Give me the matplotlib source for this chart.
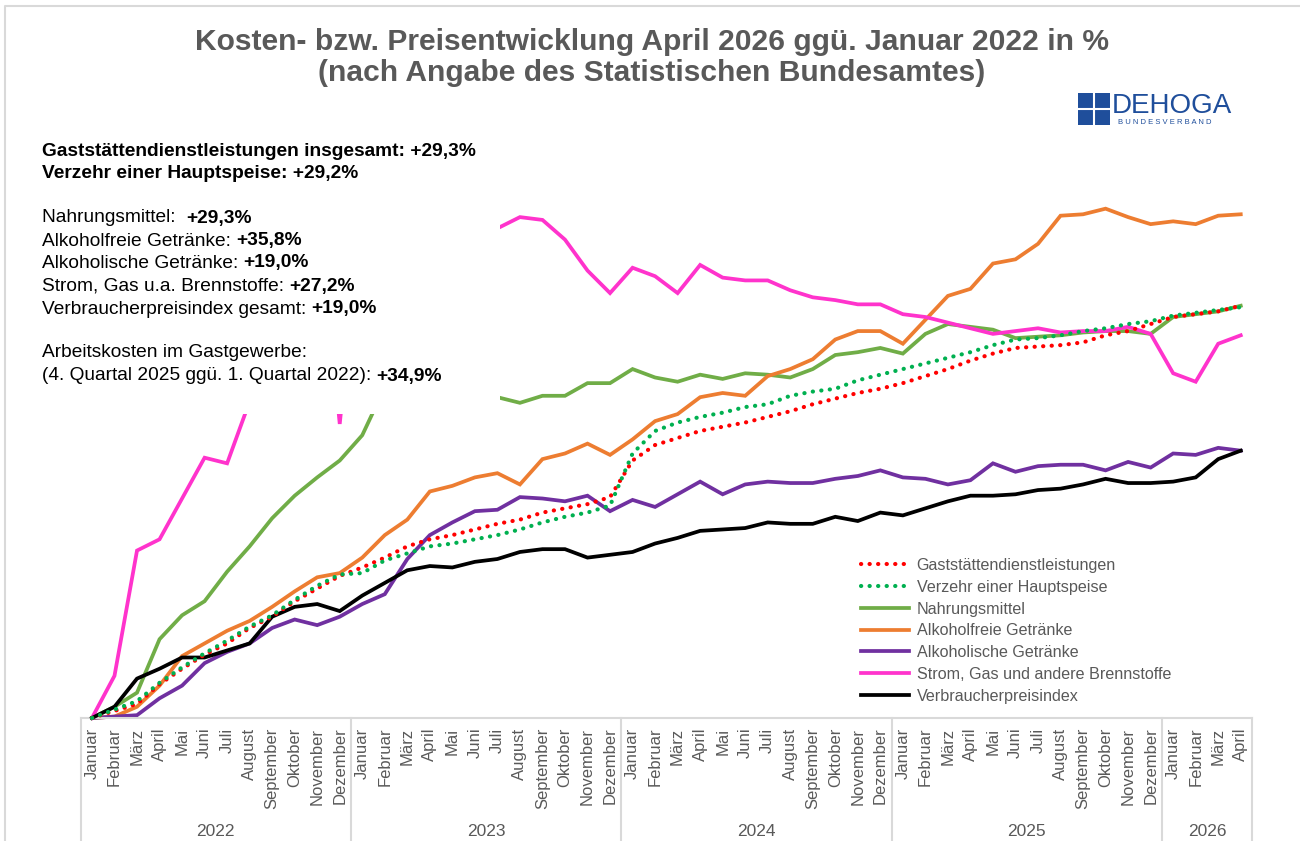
import matplotlib
matplotlib.use("Agg")
import matplotlib.pyplot as plt
from matplotlib.patches import Rectangle
from matplotlib.lines import Line2D
import matplotlib.transforms as mtransforms

plt.rcParams["font.family"] = ["Liberation Sans", "DejaVu Sans"]

W, H = 1300, 841
GREY = "#595959"
AXIS_GREY = "#D9D9D9"

# ── Daten (Veränderung ggü. Januar 2022 in %) ───────────────────

months = ["Januar", "Februar", "März", "April", "Mai", "Juni", "Juli",
          "August", "September", "Oktober", "November", "Dezember"]
years = ["2022", "2023", "2024", "2025", "2026"]
month_labels = months * 4 + months[:4]

gaststaetten = [0, 0.5, 1.0, 2.4, 3.5, 4.5, 5.3, 6.4, 7.2, 8.3, 9.2, 10.1,
                10.7, 11.4, 12.2, 12.7, 13.0, 13.4, 13.8, 14.1, 14.6, 14.9, 15.2, 15.7,
                18.3, 19.4, 19.9, 20.4, 20.7, 21.0, 21.4, 21.8, 22.3, 22.7, 23.1, 23.4,
                23.8, 24.3, 24.8, 25.4, 25.9, 26.3, 26.4, 26.5, 26.7, 27.2, 27.5, 28.0,
                28.5, 28.7, 28.9, 29.3]
hauptspeise = [0, 0.6, 1.2, 2.5, 3.6, 4.6, 5.5, 6.5, 7.3, 8.4, 9.4, 10.2,
               10.3, 11.2, 11.7, 12.2, 12.4, 12.7, 13.0, 13.4, 13.9, 14.3, 14.6, 15.1,
               18.8, 20.4, 21.0, 21.4, 21.7, 22.1, 22.3, 22.9, 23.2, 23.4, 24.0, 24.4,
               24.8, 25.2, 25.6, 26.0, 26.5, 26.9, 27.0, 27.2, 27.5, 27.7, 28.0, 28.2,
               28.6, 28.8, 29.0, 29.2]
nahrungsmittel = [0, 0.8, 1.8, 5.6, 7.3, 8.3, 10.4, 12.2, 14.2, 15.8, 17.1, 18.3,
                  20.1, 23.5, 24.5, 24.3, 24.0, 23.5, 22.8, 22.4, 22.9, 22.9, 23.8, 23.8,
                  24.8, 24.2, 23.9, 24.4, 24.1, 24.5, 24.4, 24.2, 24.8, 25.8, 26.0, 26.3,
                  25.9, 27.3, 28.0, 27.8, 27.6, 27.0, 27.1, 27.2, 27.4, 27.5, 27.5, 27.3,
                  28.5, 28.7, 28.9, 29.3]
alkoholfrei = [0, 0.1, 0.8, 2.3, 4.4, 5.3, 6.2, 6.9, 7.9, 9.0, 10.0, 10.3,
               11.4, 13.0, 14.1, 16.1, 16.5, 17.1, 17.4, 16.6, 18.4, 18.8, 19.5, 18.7,
               19.8, 21.1, 21.6, 22.8, 23.1, 22.9, 24.3, 24.8, 25.5, 26.9, 27.5, 27.5,
               26.6, 28.3, 30.0, 30.5, 32.3, 32.6, 33.7, 35.7, 35.8, 36.2, 35.6, 35.1,
               35.3, 35.1, 35.7, 35.8]
alkoholisch = [0, 0.1, 0.2, 1.4, 2.3, 3.9, 4.7, 5.3, 6.4, 7.0, 6.6, 7.2,
               8.1, 8.8, 11.3, 13.0, 13.9, 14.7, 14.8, 15.7, 15.6, 15.4, 15.8, 14.7,
               15.5, 15.0, 15.9, 16.8, 15.9, 16.6, 16.8, 16.7, 16.7, 17.0, 17.2, 17.6,
               17.1, 17.0, 16.6, 16.9, 18.1, 17.5, 17.9, 18.0, 18.0, 17.6, 18.2, 17.8,
               18.8, 18.7, 19.2, 19.0]
energie = [0, 3.0, 11.9, 12.7, 15.6, 18.5, 18.1, 22.5, 30.0, 36.0, 37.5, 20.9,
           37.0, 38.0, 37.5, 36.5, 36.0, 35.0, 34.8, 35.6, 35.4, 34.0, 31.8, 30.2,
           32.0, 31.4, 30.2, 32.2, 31.3, 31.1, 31.1, 30.4, 29.9, 29.7, 29.4, 29.4,
           28.7, 28.5, 28.1, 27.7, 27.3, 27.5, 27.7, 27.4, 27.5, 27.5, 27.8, 27.3,
           24.5, 23.9, 26.6, 27.2]
vpi = [0, 0.8, 2.8, 3.5, 4.3, 4.3, 4.8, 5.3, 7.2, 7.9, 8.1, 7.6,
       8.7, 9.6, 10.5, 10.8, 10.7, 11.1, 11.3, 11.8, 12.0, 12.0, 11.4, 11.6,
       11.8, 12.4, 12.8, 13.3, 13.4, 13.5, 13.9, 13.8, 13.8, 14.3, 14.0, 14.6,
       14.4, 14.9, 15.4, 15.8, 15.8, 15.9, 16.2, 16.3, 16.6, 17.0, 16.7, 16.7,
       16.8, 17.1, 18.4, 19.0]

series = [
    ("Gaststättendienstleistungen", gaststaetten, "#FF0000", "dot"),
    ("Verzehr einer Hauptspeise", hauptspeise, "#00B050", "dot"),
    ("Nahrungsmittel", nahrungsmittel, "#70AD47", "solid"),
    ("Alkoholfreie Getränke", alkoholfrei, "#ED7D31", "solid"),
    ("Alkoholische Getränke", alkoholisch, "#7030A0", "solid"),
    ("Strom, Gas und andere Brennstoffe", energie, "#FF33CC", "solid"),
    ("Verbraucherpreisindex", vpi, "#000000", "solid"),
]


def fx(px):
    return px / W


def fy(py):
    return 1 - py / H


# ── Diagramm ──────────────────────────────────────────────

fig = plt.figure(figsize=(W / 100, H / 100), dpi=100)
fig.patch.set_facecolor("white")

ax_left, ax_right, ax_top, ax_base = 80.7, 1252, 150, 718
ax = fig.add_axes([fx(ax_left), fy(ax_base), (ax_right - ax_left) / W,
                   (ax_base - ax_top) / H])
ax.set_xlim(-0.5, len(month_labels) - 0.5)
ax.set_ylim(0, (ax_base - ax_top) / 14.07)

x = list(range(len(month_labels)))
handles = []
for i, (name, vals, color, style) in enumerate(series):
    if style == "dot":
        line, = ax.plot(x, vals, color=color, linewidth=3.0,
                        linestyle=(0, (0.05, 2.0)), dash_capstyle="round",
                        zorder=3 + i * 0.1, clip_on=False)
    else:
        line, = ax.plot(x, vals, color=color, linewidth=2.7,
                        solid_joinstyle="miter", zorder=2 + i * 0.1,
                        clip_on=False)
    handles.append(line)

for side in ["top", "right", "left"]:
    ax.spines[side].set_visible(False)
ax.spines["bottom"].set_color(AXIS_GREY)
ax.spines["bottom"].set_linewidth(1.5)
ax.set_yticks([])
ax.set_xticks(x)
ax.set_xticklabels(month_labels, rotation=90, fontsize=12, color=GREY)
ax.tick_params(axis="x", length=0, pad=7)

# Jahres-Trennlinien und Jahreszahlen
trans = mtransforms.blended_transform_factory(ax.transData, fig.transFigure)
bounds = [-0.5, 11.5, 23.5, 35.5, 47.5, len(month_labels) - 0.5]
for b in bounds:
    ax.add_line(Line2D([b, b], [fy(ax_base), 0], transform=trans,
                       color=AXIS_GREY, linewidth=1.5, clip_on=False))
for j, yr in enumerate(years):
    ax.text((bounds[j] + bounds[j + 1]) / 2, fy(831), yr, transform=trans,
            ha="center", va="center", fontsize=12.5, color=GREY)

# Textfeld oben links (weiß hinterlegt, verdeckt die Linien)
ax.add_patch(Rectangle((fx(ax_left), fy(414)), fx(500) - fx(ax_left),
                       fy(ax_top - 5) - fy(414), transform=fig.transFigure,
                       facecolor="white", edgecolor="none", zorder=5,
                       clip_on=False))

tx = fx(42)
fs = 13.8
ax.text(tx, fy(151), "Gaststättendienstleistungen insgesamt: +29,3%",
        transform=fig.transFigure, fontsize=fs, fontweight="bold",
        va="center", zorder=6)
ax.text(tx, fy(174), "Verzehr einer Hauptspeise: +29,2%",
        transform=fig.transFigure, fontsize=fs, fontweight="bold",
        va="center", zorder=6)

rows = [
    (218, "Nahrungsmittel:  ", "+29,3%"),
    (241, "Alkoholfreie Getränke: ", "+35,8%"),
    (263, "Alkoholische Getränke: ", "+19,0%"),
    (286, "Strom, Gas u.a. Brennstoffe: ", "+27,2%"),
    (309, "Verbraucherpreisindex gesamt: ", "+19,0%"),
    (353, "Arbeitskosten im Gastgewerbe:", ""),
    (376, "(4. Quartal 2025 ggü. 1. Quartal 2022): ", "+34,9%"),
]
for py, regular, bold in rows:
    t = ax.text(tx, fy(py), regular, transform=fig.transFigure, fontsize=fs,
                va="center", zorder=6)
    if bold:
        ax.annotate(bold, xy=(1, 0), xycoords=t, va="bottom", ha="left",
                    fontsize=fs, fontweight="bold", zorder=6,
                    annotation_clip=False)

# Legende
ax.legend(handles, [s[0] for s in series], loc="upper left",
          bbox_to_anchor=(fx(861), fy(558)), bbox_transform=fig.transFigure,
          frameon=False, fontsize=11.6, labelcolor=GREY, handlelength=3.0,
          handletextpad=0.45, labelspacing=0.42, borderpad=0, borderaxespad=0)

# Titel
fig.text(0.5015, fy(42), "Kosten- bzw. Preisentwicklung April 2026 ggü. Januar 2022 in %",
         ha="center", va="center", fontsize=21.6, fontweight="bold", color=GREY)
fig.text(0.5015, fy(73), "(nach Angabe des Statistischen Bundesamtes)",
         ha="center", va="center", fontsize=21.6, fontweight="bold", color=GREY)

# Logo DEHOGA
BLUE = "#1F4E9B"
fig.patches.append(Rectangle((fx(1078), fy(125)), fx(32), fy(93) - fy(125),
                             transform=fig.transFigure, facecolor=BLUE,
                             edgecolor="none"))
fig.add_artist(Line2D([fx(1094), fx(1094)], [fy(125), fy(93)],
                      color="white", linewidth=1.5))
fig.add_artist(Line2D([fx(1078), fx(1110)], [fy(109), fy(109)],
                      color="white", linewidth=1.5))
fig.text(fx(1112), fy(106), "DEHOGA", ha="left", va="center", fontsize=20,
         color=BLUE)
fig.text(fx(1118), fy(122), "B U N D E S V E R B A N D", ha="left",
         va="center", fontsize=5.5, color=BLUE)

# Rahmen
fig.add_artist(Line2D([fx(5), fx(5), 1], [0, fy(6), fy(6)], color=AXIS_GREY,
                      linewidth=1.5))

fig.savefig("out.png", dpi=100)
